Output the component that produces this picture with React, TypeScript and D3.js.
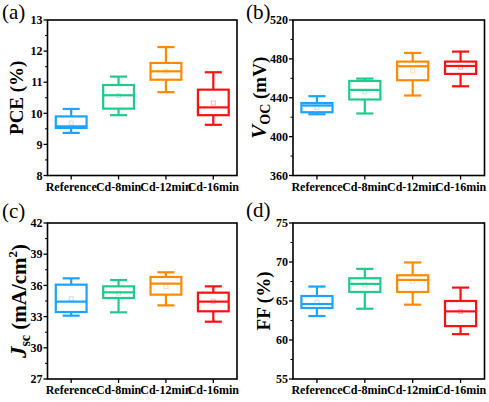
import React from "react";
import * as d3 from "d3";

const categories = ["Reference", "Cd-8min", "Cd-12min", "Cd-16min"];
const colors = ["#1aa3ff", "#1ecb8c", "#ff8a00", "#ff1010"];

// PCE (%)
const pceMin = [9.37, 9.94, 10.68, 9.63];
const pceQ1 = [9.53, 10.15, 11.08, 9.94];
const pceMed = [9.58, 10.58, 11.35, 10.19];
const pceQ3 = [9.9, 10.91, 11.62, 10.76];
const pceMax = [10.14, 11.18, 12.13, 11.32];
const pceMean = [9.69, 10.57, 11.35, 10.33];
const pceTicks = [8, 9, 10, 11, 12, 13];

// Voc (mV)
const vocMin = [423, 423.8, 442.3, 451.8];
const vocQ1 = [425.1, 438.2, 458, 464.5];
const vocMed = [432, 448.1, 472.4, 472.7];
const vocQ3 = [434.5, 457.3, 477.2, 477.2];
const vocMax = [441.6, 459.7, 486.1, 487.5];
const vocMean = [430, 446, 467.6, 471.4];
const vocTicks = [360, 400, 440, 480, 520];

// Jsc (mA/cm2)
const jscMin = [33.09, 33.41, 34.08, 32.51];
const jscQ1 = [33.44, 34.79, 35.11, 33.51];
const jscMed = [34.44, 35.33, 36.17, 34.44];
const jscQ3 = [36.07, 35.91, 36.81, 35.3];
const jscMax = [36.68, 36.52, 37.26, 35.91];
const jscMean = [34.72, 35.25, 35.88, 34.47];
const jscTicks = [27, 30, 33, 36, 39, 42];

// FF (%)
const ffMin = [63.07, 64.01, 64.53, 60.75];
const ffQ1 = [64.1, 66.16, 66.16, 61.78];
const ffMed = [64.61, 67.19, 67.7, 63.67];
const ffQ3 = [65.64, 67.92, 68.3, 65.0];
const ffMax = [66.85, 69.12, 69.94, 66.72];
const ffMean = [64.83, 67.06, 67.49, 63.67];
const ffTicks = [55, 60, 65, 70, 75];

const FONT = "'Times New Roman', 'Liberation Serif', serif";

type PanelProps = {
  left: number; right: number; top: number; bottom: number;
  ticks: number[];
  mins: number[]; q1s: number[]; meds: number[]; q3s: number[]; maxs: number[]; means: number[];
  label: string; labelX: number; labelY: number;
  title: React.ReactNode; titleX: number; titleSize?: number;
};

function Panel(p: PanelProps) {
  const x = d3.scaleLinear().domain([0.5, 4.5]).range([p.left, p.right]);
  const y = d3.scaleLinear().domain([p.ticks[0], p.ticks[p.ticks.length - 1]]).range([p.bottom, p.top]);
  const step = x(2) - x(1);
  const boxW = step * 0.65;
  const capW = step * 0.36;
  const minors = p.ticks.slice(0, -1).map((t, i) => (t + p.ticks[i + 1]) / 2);
  const cy = (p.top + p.bottom) / 2;
  return (
    <g fontFamily={FONT}>
      <text x={p.labelX} y={p.labelY} fontSize={21} fill="#000">{p.label}</text>
      {categories.map((c, i) => {
        const cx = x(i + 1);
        const col = colors[i];
        return (
          <g key={c} stroke={col} strokeWidth={2.2} fill="none">
            <line x1={cx} x2={cx} y1={y(p.maxs[i])} y2={y(p.q3s[i])} />
            <line x1={cx} x2={cx} y1={y(p.q1s[i])} y2={y(p.mins[i])} />
            <line x1={cx - capW / 2} x2={cx + capW / 2} y1={y(p.maxs[i])} y2={y(p.maxs[i])} />
            <line x1={cx - capW / 2} x2={cx + capW / 2} y1={y(p.mins[i])} y2={y(p.mins[i])} />
            <rect x={cx - boxW / 2} y={y(p.q3s[i])} width={boxW} height={y(p.q1s[i]) - y(p.q3s[i])} />
            <line x1={cx - boxW / 2} x2={cx + boxW / 2} y1={y(p.meds[i])} y2={y(p.meds[i])} />
            <rect x={cx - 2} y={y(p.means[i]) - 2} width={4} height={4} strokeWidth={1} strokeOpacity={0.3} />
          </g>
        );
      })}
      <rect x={p.left} y={p.top} width={p.right - p.left} height={p.bottom - p.top} fill="none" stroke="#000" strokeWidth={1.6} />
      {p.ticks.map((t) => (
        <g key={t}>
          <line x1={p.left - 4} x2={p.left} y1={y(t)} y2={y(t)} stroke="#000" strokeWidth={1.3} />
          <text x={p.left - 5} y={y(t)} dy="0.35em" textAnchor="end" fontSize={12} fontWeight="bold">{t}</text>
        </g>
      ))}
      {minors.map((t) => (
        <line key={t} x1={p.left - 2.5} x2={p.left} y1={y(t)} y2={y(t)} stroke="#000" strokeWidth={1} />
      ))}
      {categories.map((c, i) => (
        <g key={c}>
          <line x1={x(i + 1)} x2={x(i + 1)} y1={p.bottom} y2={p.bottom + 4} stroke="#000" strokeWidth={1.3} />
          <text x={x(i + 1)} y={p.bottom + 15} textAnchor="middle" fontSize={12} fontWeight="bold">{c}</text>
        </g>
      ))}
      <text transform={`translate(${p.titleX},${cy}) rotate(-90)`} textAnchor="middle" fontSize={p.titleSize || 19} fontWeight="bold">{p.title}</text>
    </g>
  );
}

export default function App() {
  return (
    <svg width={489} height={402} style={{ position: "absolute", left: 0, top: 0, background: "#fff" }}>
      <Panel left={47.5} right={237} top={20} bottom={175.5} ticks={pceTicks}
        mins={pceMin} q1s={pceQ1} meds={pceMed} q3s={pceQ3} maxs={pceMax} means={pceMean}
        label="(a)" labelX={2} labelY={19} titleX={23} title={"PCE (%)"} />
      <Panel left={293} right={484.5} top={20} bottom={175.5} ticks={vocTicks}
        mins={vocMin} q1s={vocQ1} meds={vocMed} q3s={vocQ3} maxs={vocMax} means={vocMean}
        label="(b)" labelX={246} labelY={19} titleX={266}
        title={<><tspan fontStyle="italic" fontSize={21}>V</tspan><tspan fontSize={14} dy={4}>OC</tspan><tspan dy={-4}> (mV)</tspan></>} />
      <Panel left={47.5} right={237} top={223} bottom={379} ticks={jscTicks}
        mins={jscMin} q1s={jscQ1} meds={jscMed} q3s={jscQ3} maxs={jscMax} means={jscMean}
        label="(c)" labelX={2} labelY={218} titleX={26} titleSize={21}
        title={<><tspan fontStyle="italic" fontSize={23}>J</tspan><tspan fontSize={14} dy={4}>sc</tspan><tspan dy={-4}> (mA/cm</tspan><tspan fontSize={13} dy={-9}>2</tspan><tspan dy={9}>)</tspan></>} />
      <Panel left={293} right={484.5} top={223} bottom={379} ticks={ffTicks}
        mins={ffMin} q1s={ffQ1} meds={ffMed} q3s={ffQ3} maxs={ffMax} means={ffMean}
        label="(d)" labelX={246} labelY={217} titleX={270} title={"FF (%)"} />
    </svg>
  );
}
